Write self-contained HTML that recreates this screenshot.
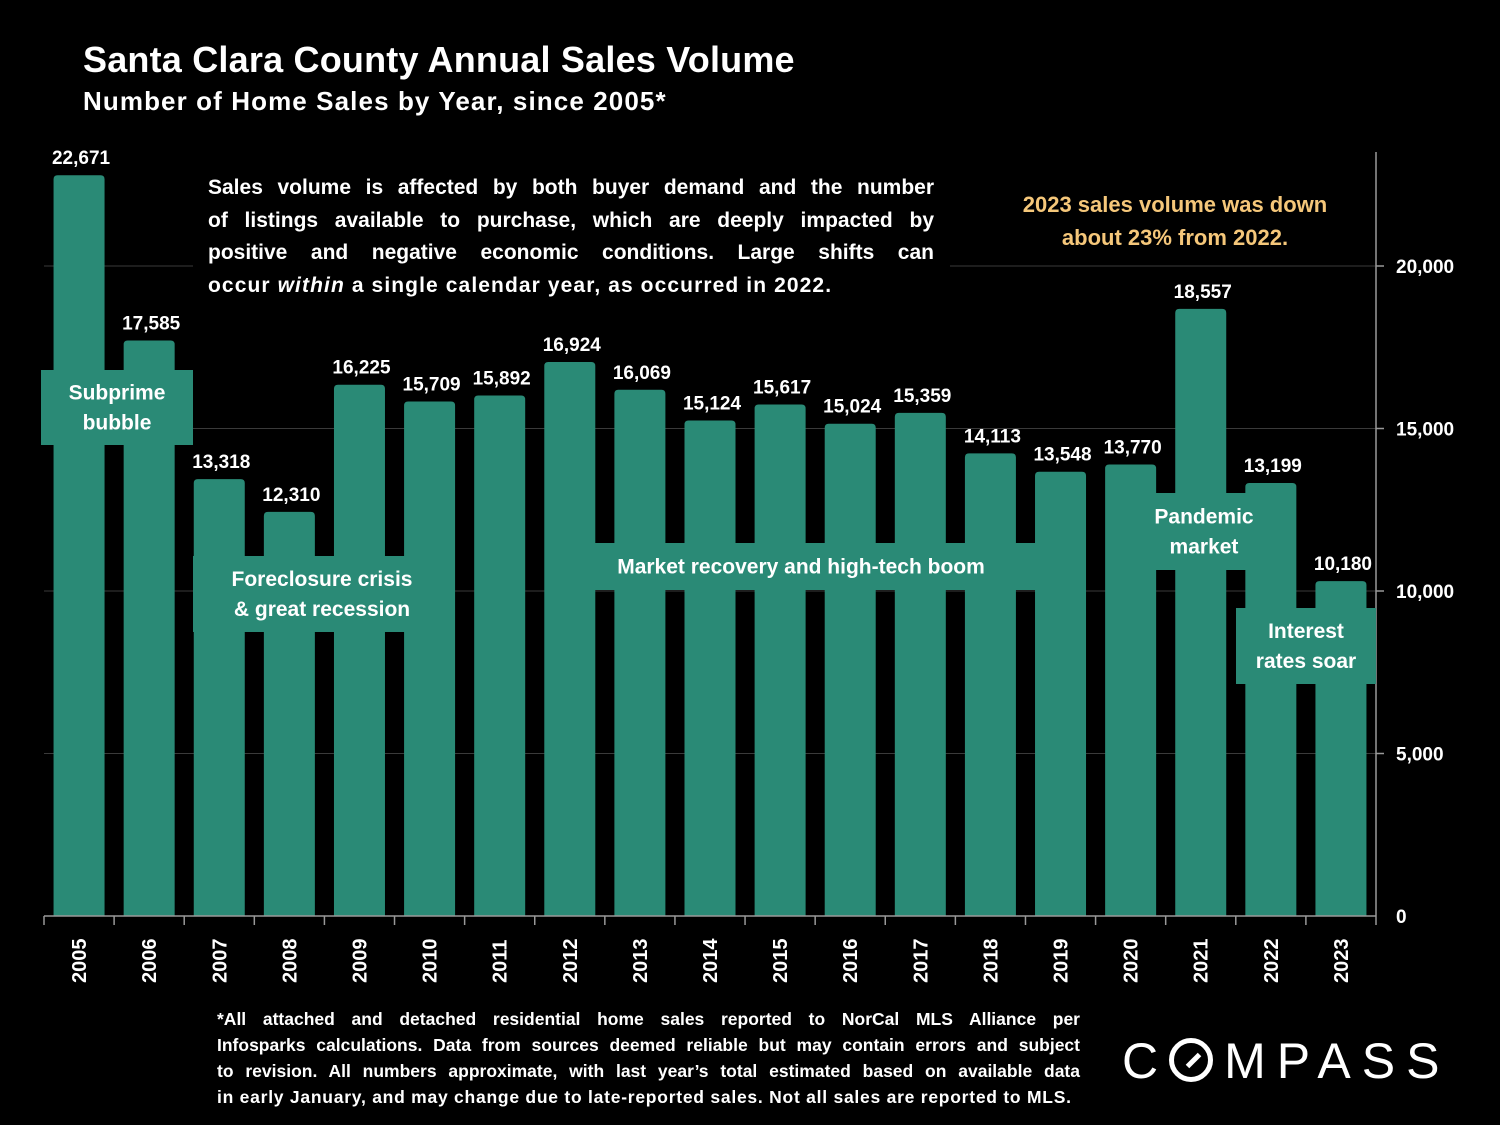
<!DOCTYPE html>
<html><head><meta charset="utf-8">
<style>
html,body{margin:0;padding:0;background:#000;}
body{width:1500px;height:1125px;position:relative;overflow:hidden;font-family:"Liberation Sans",sans-serif;color:#fff;}
.abs{position:absolute;}
.jl{text-align:justify;text-align-last:justify;white-space:nowrap;}
.ll{text-align:left;white-space:nowrap;}
</style></head>
<body>
<div class="abs" style="left:83px;top:39px;font-size:36px;font-weight:bold;letter-spacing:0.2px;">Santa Clara County Annual Sales Volume</div>
<div class="abs" style="left:83px;top:86px;font-size:26px;font-weight:bold;letter-spacing:1.1px;">Number of Home Sales by Year, since 2005*</div>
<svg id="chart" class="abs" style="left:0;top:0" width="1500" height="1000"></svg>
<div class="abs" style="left:217px;top:1006px;width:863px;font-size:17.5px;font-weight:bold;line-height:26px;">
<div class="jl">*All attached and detached residential home sales reported to NorCal MLS Alliance per</div>
<div class="jl">Infosparks calculations. Data from sources deemed reliable but may contain errors and subject</div>
<div class="jl">to revision. All numbers approximate, with last year’s total estimated based on available data</div>
<div class="ll" style="letter-spacing:0.75px;">in early January, and may change due to late-reported sales. Not all sales are reported to MLS.</div>
</div>
<div class="abs" style="left:1122px;top:1032px;font-size:50px;letter-spacing:11px;font-weight:normal;">C<span style="display:inline-block;width:44px;height:44px;border:5px solid #fff;border-radius:50%;box-sizing:border-box;vertical-align:-4px;position:relative;margin-right:11px;"><span style="position:absolute;left:11px;top:15px;width:17px;height:5px;background:#fff;transform:rotate(-45deg);"></span></span>MPASS</div>
<script>
const years=["2005","2006","2007","2008","2009","2010","2011","2012","2013","2014","2015","2016","2017","2018","2019","2020","2021","2022","2023"];
const sales=[22671,17585,13318,12310,16225,15709,15892,16924,16069,15124,15617,15024,15359,14113,13548,13770,18557,13199,10180];
const yTicks=[0,5000,10000,15000,20000];
const yTickLabels=["0","5,000","10,000","15,000","20,000"];
const NS="http://www.w3.org/2000/svg";
const svg=document.getElementById('chart');
const X0=44,X1=1376,Y0=916,PXU=650/20000;
const bw=(X1-X0)/years.length;
const xc=i=>X0+bw*(i+0.5);
const y=v=>Y0-v*PXU;
function mk(t,a,p){const e=document.createElementNS(NS,t);for(const k in a)e.setAttribute(k,a[k]);(p||svg).appendChild(e);return e;}
const teal="#2a8a76";
yTicks.forEach((v,i)=>{
  if(v>0){const g=mk('line',{x1:X0,x2:X1,y1:y(v),y2:y(v),stroke:'#3a3a3a','stroke-width':1});
  
  }
  const t=mk('text',{x:1396,y:y(v)+7,fill:'#fff','font-size':19,'font-weight':'bold','font-family':'Liberation Sans'});
  t.textContent=yTickLabels[i];
  
  
});
sales.forEach((v,i)=>{
  const w=51,x=xc(i)-w/2,top=y(v)-4,h=Y0-top;
  const p=mk('path',{d:`M${x},${Y0}V${top+4}Q${x},${top} ${x+4},${top}H${x+w-4}Q${x+w},${top} ${x+w},${top+4}V${Y0}Z`,fill:teal});
  
  
  const t=mk('text',{x:xc(i)+2,y:top-11,fill:'#fff','font-size':19,'font-weight':'bold','text-anchor':'middle','font-family':'Liberation Sans'});
  t.textContent=v.toLocaleString('en-US');
  
  
  const yl=mk('text',{transform:`translate(${xc(i)+7},983) rotate(-90)`,fill:'#fff','font-size':20,'font-weight':'bold','font-family':'Liberation Sans'});
  yl.textContent=years[i];
  
  
});
const ax=mk('line',{x1:X0,x2:X1,y1:Y0,y2:Y0,stroke:'#999','stroke-width':1.5});


const ay=mk('line',{x1:X1,x2:X1,y1:152,y2:Y0,stroke:'#999','stroke-width':1.5});


for(let i=0;i<=years.length;i++){
  const tk=mk('line',{x1:X0+bw*i,x2:X0+bw*i,y1:Y0,y2:Y0+9,stroke:'#999','stroke-width':1.5});
  
  
}
for(const v of [5000,10000,15000,20000]){
  const tk=mk('line',{x1:X1,x2:X1+8,y1:y(v),y2:y(v),stroke:'#999','stroke-width':1.5});
  
  
}
const boxes=[
 ['subprime-annotation',41,370,152,75,['Subprime','bubble'],117],
 ['foreclosure-annotation',193,556,218,76,['Foreclosure crisis','& great recession'],322],
 ['recovery-annotation',593,543,445,47,['Market recovery and high-tech boom'],801],
 ['pandemic-annotation',1155,493,103,77,['Pandemic','market'],1204],
 ['interest-annotation',1236,608,140,76,['Interest','rates soar'],1306]
];
boxes.forEach(b=>{
  const g=mk('g',{});
  
  
  mk('rect',{x:b[1],y:b[2],width:b[3],height:b[4],fill:teal},g);
  const n=b[5].length;
  b[5].forEach((s,j)=>{
    const t=mk('text',{x:b[6],y:b[2]+b[4]/2+7+(j-(n-1)/2)*30,fill:'#fff','font-size':21,'font-weight':'bold','text-anchor':'middle','font-family':'Liberation Sans'},g);
    t.textContent=s;
  });
});
const bg=mk('rect',{x:193,y:168,width:757,height:134,fill:'#000'});


</script>
<div class="abs" style="left:208px;top:172px;width:726px;font-size:21px;font-weight:bold;line-height:32.5px;">
<div class="jl">Sales volume is affected by both buyer demand and the number</div>
<div class="jl">of listings available to purchase, which are deeply impacted by</div>
<div class="jl">positive and negative economic conditions. Large shifts can</div>
<div class="ll" style="letter-spacing:1.1px;">occur <i>within</i> a single calendar year, as occurred in 2022.</div>
</div>
<div class="abs" style="left:1000px;top:188px;width:350px;text-align:center;font-size:22px;font-weight:bold;line-height:33px;color:#f5c77a;">2023 sales volume was down<br>about 23% from 2022.</div>
</body></html>
